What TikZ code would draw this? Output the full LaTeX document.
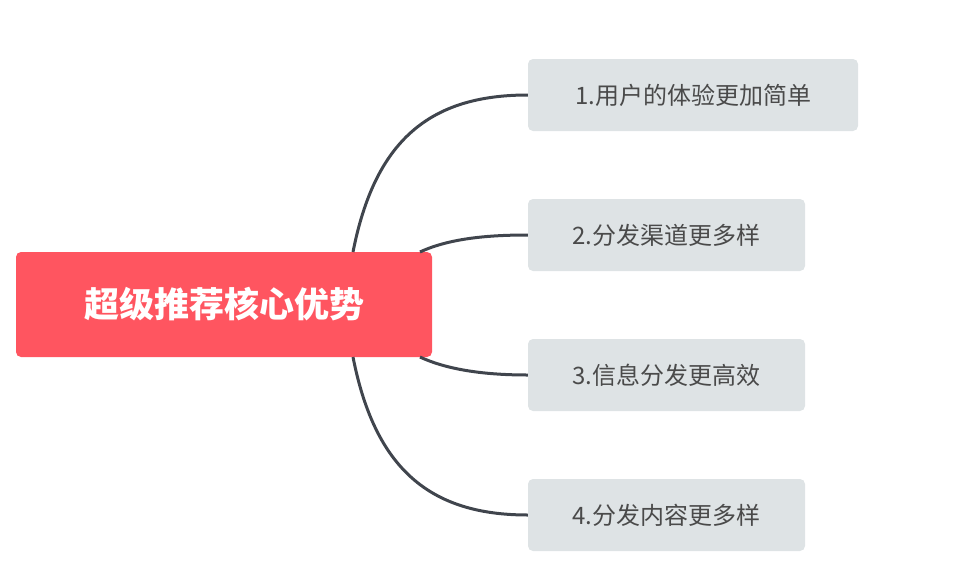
\documentclass[tikz,border=0pt]{standalone}
\usepackage{fontspec}
\newfontfamily\cjk{Noto Sans CJK SC}
\definecolor{rootred}{HTML}{FF5560}
\definecolor{leafgray}{HTML}{DEE3E5}
\definecolor{linec}{HTML}{40454D}
\definecolor{txtc}{HTML}{4A4A4A}
\begin{document}
\begin{tikzpicture}[x=1pt,y=-1pt,
  rootbox/.style={fill=rootred,rounded corners=5pt,inner sep=0pt,text=white,font=\cjk\bfseries\fontsize{35}{40}\selectfont},
  leafbox/.style={fill=leafgray,rounded corners=5pt,inner sep=0pt,text=txtc,font=\cjk\fontsize{24}{28}\selectfont},
  link/.style={draw=linec,line width=3pt}]
\useasboundingbox (0,0) rectangle (976,562);
\node[rootbox,minimum width=416pt,minimum height=105pt] (root) at (224,304.5) {超级推荐核心优势};
\node[leafbox,minimum width=330pt,minimum height=72pt] (l1) at (693,95) {1.用户的体验更加简单};
\node[leafbox,minimum width=277pt,minimum height=72pt] (l2) at (666.5,235) {2.分发渠道更多样};
\node[leafbox,minimum width=277pt,minimum height=72pt] (l3) at (666.5,375) {3.信息分发更高效};
\node[leafbox,minimum width=277pt,minimum height=72pt] (l4) at (666.5,515) {4.分发内容更多样};
\coordinate (s1) at (353,252);
\coordinate (s2) at (420,252);
\coordinate (s3) at (420,357);
\coordinate (s4) at (353,357);
\draw[link] (s1) .. controls (375,140) and (430,95) .. (l1.west);
\draw[link] (s2) .. controls (450,238) and (490,235) .. (l2.west);
\draw[link] (s3) .. controls (450,371) and (490,375) .. (l3.west);
\draw[link] (s4) .. controls (375,469) and (430,515) .. (l4.west);
\end{tikzpicture}
\end{document}
